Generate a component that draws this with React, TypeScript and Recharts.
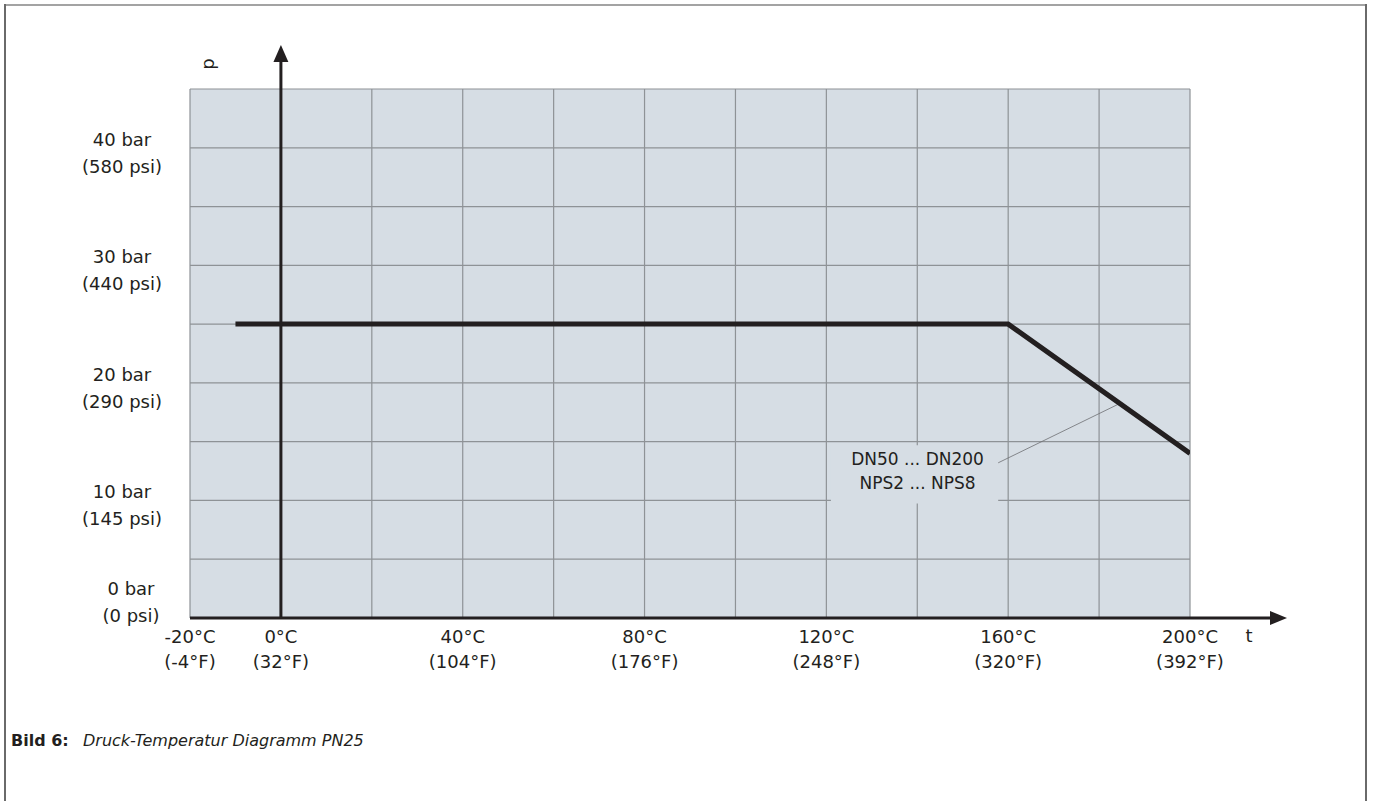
import React from 'react';
import {
  ComposedChart,
  Line,
  XAxis,
  YAxis,
  CartesianGrid,
  ReferenceLine,
  ReferenceArea,
} from 'recharts';

// ---- data ----
const temps = [-10, 160, 200];
const pressures = [25, 25, 14];

const xGridTicks = [-20, 0, 20, 40, 60, 80, 100, 120, 140, 160, 180, 200];
const xLabelValues = [-20, 0, 40, 80, 120, 160, 200];
const xLabelC = ['-20°C', '0°C', '40°C', '80°C', '120°C', '160°C', '200°C'];
const xLabelF = ['(-4°F)', '(32°F)', '(104°F)', '(176°F)', '(248°F)', '(320°F)', '(392°F)'];

const yGridTicks = [0, 5, 10, 15, 20, 25, 30, 35, 40, 45];
const yLabelValues = [0, 10, 20, 30, 40];
const yLabelBar = ['0 bar', '10 bar', '20 bar', '30 bar', '40 bar'];
const yLabelPsi = ['(0 psi)', '(145 psi)', '(290 psi)', '(440 psi)', '(580 psi)'];

const annoLines = ['DN50 ... DN200', 'NPS2 ... NPS8'];
const annoBoxX = [121, 157.8];
const annoBoxY = [9.75, 14.7];
const leaderT = [157.8, 184.3];
const leaderP = [13.2, 18.2];

const chartData = temps.map((t, i) => ({ t, p: pressures[i] }));

// ---- styles ----
const FONT = '"DejaVu Sans", sans-serif';
const INK = '#231f20';
const BG = '#d6dde4';
const GRID = '#8e9296';

const XTick = (props: any) => {
  const { x, y, payload } = props;
  const idx = xLabelValues.indexOf(payload.value);
  if (idx < 0) return null;
  return (
    <g>
      <text x={x} y={y + 25} textAnchor="middle" fontFamily={FONT} fontSize={18} fill={INK}>
        {xLabelC[idx]}
      </text>
      <text x={x} y={y + 50} textAnchor="middle" fontFamily={FONT} fontSize={18} fill={INK}>
        {xLabelF[idx]}
      </text>
    </g>
  );
};

const YTick = (props: any) => {
  const { x, y, payload } = props;
  const idx = yLabelValues.indexOf(payload.value);
  if (idx < 0) return null;
  const isZero = payload.value === 0;
  const cx = isZero ? x - 59 : x - 68;
  const d1 = isZero ? -23 : -2;
  const d2 = isZero ? 4 : 25;
  return (
    <g>
      <text x={cx} y={y + d1} textAnchor="middle" fontFamily={FONT} fontSize={18} fill={INK}>
        {yLabelBar[idx]}
      </text>
      <text x={cx} y={y + d2} textAnchor="middle" fontFamily={FONT} fontSize={18} fill={INK}>
        {yLabelPsi[idx]}
      </text>
    </g>
  );
};

const YAxisArrow = (props: any) => {
  const x = props.x1;
  const yBottom = Math.max(props.y1, props.y2);
  const yTop = Math.min(props.y1, props.y2);
  const tip = yTop - 44;
  return (
    <g>
      <line x1={x} y1={yBottom} x2={x} y2={tip + 14} stroke={INK} strokeWidth={3} />
      <polygon points={`${x},${tip} ${x - 7.5},${tip + 17} ${x + 7.5},${tip + 17}`} fill={INK} />
      <text
        x={x - 73}
        y={tip + 19}
        textAnchor="middle"
        fontFamily={FONT}
        fontSize={18}
        fill={INK}
        transform={`rotate(-90 ${x - 73} ${tip + 19})`}
        dominantBaseline="central"
      >
        p
      </text>
    </g>
  );
};

const XAxisArrow = (props: any) => {
  const y = props.y1;
  const xLeft = Math.min(props.x1, props.x2);
  const xRight = Math.max(props.x1, props.x2);
  const tip = xRight + 97;
  return (
    <g>
      <line x1={xLeft} y1={y} x2={tip - 14} y2={y} stroke={INK} strokeWidth={3} />
      <polygon points={`${tip},${y} ${tip - 17},${y - 7} ${tip - 17},${y + 7}`} fill={INK} />
      <text x={xRight + 59} y={y + 24} textAnchor="middle" fontFamily={FONT} fontSize={18} fill={INK}>
        t
      </text>
    </g>
  );
};

const AnnoLabel = (props: any) => {
  const vb = props.viewBox || {};
  const cx = vb.x + vb.width / 2 + 3;
  const top = vb.y;
  return (
    <g>
      {annoLines.map((s, i) => (
        <text
          key={i}
          x={cx}
          y={top + 20 + i * 24}
          textAnchor="middle"
          fontFamily={FONT}
          fontSize={17}
          fill={INK}
        >
          {s}
        </text>
      ))}
    </g>
  );
};

export default function App() {
  return (
    <div
      style={{
        position: 'absolute',
        left: 0,
        top: 0,
        width: 1373,
        height: 801,
        background: '#ffffff',
        overflow: 'hidden',
      }}
    >
      <div style={{ position: 'absolute', left: 4, top: 4, width: 1363, height: 2, background: '#a3a3a3' }} />
      <div style={{ position: 'absolute', left: 4, top: 4, width: 2, height: 800, background: '#6a6a6a' }} />
      <div style={{ position: 'absolute', left: 1365, top: 4, width: 2, height: 800, background: '#6a6a6a' }} />

      <ComposedChart
        width={1373}
        height={801}
        data={chartData}
        margin={{ top: 89, right: 183, bottom: 123, left: 90 }}
      >
        <CartesianGrid fill={BG} fillOpacity={1} stroke={GRID} strokeWidth={1.2} />
        <XAxis
          dataKey="t"
          type="number"
          domain={[-20, 200]}
          ticks={xGridTicks}
          interval={0}
          tick={<XTick />}
          axisLine={false}
          tickLine={false}
          tickSize={0}
          tickMargin={0}
          height={60}
          allowDataOverflow
        />
        <YAxis
          type="number"
          domain={[0, 45]}
          ticks={yGridTicks}
          interval={0}
          tick={<YTick />}
          axisLine={false}
          tickLine={false}
          tickSize={0}
          tickMargin={0}
          width={100}
          allowDataOverflow
        />
        <ReferenceArea
          x1={annoBoxX[0]}
          x2={annoBoxX[1]}
          y1={annoBoxY[0]}
          y2={annoBoxY[1]}
          fill={BG}
          fillOpacity={1}
          stroke="none"
          label={<AnnoLabel />}
        />
        <ReferenceLine
          segment={[
            { x: leaderT[0], y: leaderP[0] },
            { x: leaderT[1], y: leaderP[1] },
          ]}
          stroke="#6d6f72"
          strokeWidth={0.8}
        />
        <ReferenceLine x={0} stroke={INK} shape={<YAxisArrow />} />
        <ReferenceLine y={0} stroke={INK} shape={<XAxisArrow />} />
        <Line
          type="linear"
          dataKey="p"
          stroke={INK}
          strokeWidth={5}
          dot={false}
          activeDot={false}
          isAnimationActive={false}
          strokeLinejoin="miter"
        />
      </ComposedChart>

      <div
        style={{
          position: 'absolute',
          left: 11,
          top: 731,
          fontFamily: FONT,
          fontSize: 16,
          fontWeight: 'bold',
          color: INK,
          whiteSpace: 'nowrap',
        }}
      >
        Bild 6:
      </div>
      <div
        style={{
          position: 'absolute',
          left: 83,
          top: 731,
          fontFamily: FONT,
          fontSize: 16,
          fontStyle: 'italic',
          color: INK,
          whiteSpace: 'nowrap',
        }}
      >
        Druck-Temperatur Diagramm PN25
      </div>
    </div>
  );
}
